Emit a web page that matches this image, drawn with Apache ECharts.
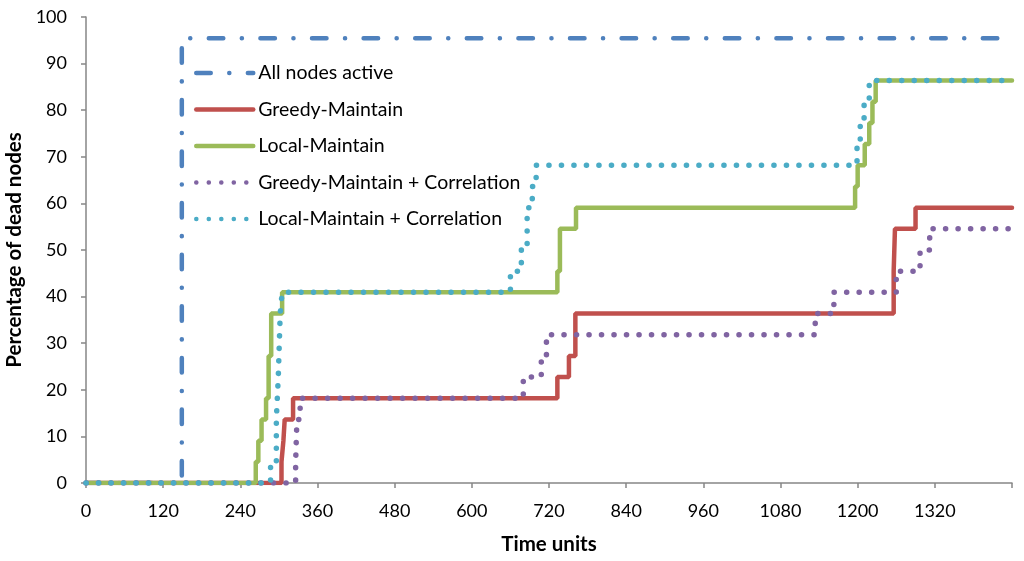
<!DOCTYPE html>
<html>
<head>
<meta charset="utf-8">
<script src="https://cdn.jsdelivr.net/npm/echarts@6/dist/echarts.min.js"></script>
<style>html,body{margin:0;padding:0;background:#fff}#c{width:1024px;height:561px}</style>
</head>
<body>
<div id="c"></div>
<script>
var xTicks = [0, 120, 240, 360, 480, 600, 720, 840, 960, 1080, 1200, 1320, 1440];

var allActiveT = [0, 149, 1440];
var allActiveV = [0, 95.45, 95.45];

var greedyT = [0, 304, 307, 309, 322, 733, 751, 761, 1256, 1258, 1290, 1440];
var greedyV = [0, 4.55, 9.09, 13.64, 18.18, 22.73, 27.27, 36.36, 45.45, 54.55, 59.09, 59.09];

var localT = [0, 264, 268, 273, 280, 284, 288, 305, 733, 737, 762, 1196, 1200, 1211, 1218, 1223, 1228, 1440];
var localV = [0, 4.55, 9.09, 13.64, 18.18, 27.27, 36.36, 40.91, 45.45, 54.55, 59.09, 63.64, 68.18, 72.73, 77.27, 81.82, 86.36, 86.36];

var greedyCorrT = [0, 326, 327, 328, 333, 680, 708, 716, 1134, 1163, 1260, 1297, 1312, 1440];
var greedyCorrV = [0, 4.55, 9.09, 13.64, 18.18, 22.73, 27.27, 31.82, 36.36, 40.91, 45.45, 50, 54.55, 54.55];

var localCorrT = [0, 287, 296, 299, 302, 305, 660, 677, 686, 694, 700, 1199, 1204, 1210, 1218, 1440];
var localCorrV = [0, 4.55, 13.64, 22.73, 36.36, 40.91, 45.45, 50, 59.09, 63.64, 68.18, 72.73, 77.27, 81.82, 86.36, 86.36];

function pairs(t, v) { return t.map(function (x, i) { return [x, v[i]]; }); }

var FONT = 'Lato';
var chart = echarts.init(document.getElementById('c'));

function mk(name, t, v, color, type, width) {
  return {
    name: name, type: 'line', step: 'end', symbol: 'none', showSymbol: false,
    data: pairs(t, v),
    lineStyle: { color: color, width: width, type: type, cap: 'round' },
    itemStyle: { color: color },
    animation: false
  };
}

chart.setOption({
  animation: false,
  grid: { left: 86, right: 12, top: 17, bottom: 78, outerBoundsMode: 'none', containLabel: false },
  legend: {
    orient: 'vertical', left: 189, top: 58,
    itemWidth: 57, itemHeight: 18, itemGap: 16.5,
    itemStyle: { opacity: 0, borderWidth: 0 },
    lineStyle: { width: 4.5, cap: 'round' },
    textStyle: { fontFamily: FONT, fontSize: 19.5, color: '#000' },
    data: ['All nodes active', 'Greedy-Maintain', 'Local-Maintain', 'Greedy-Maintain + Correlation', 'Local-Maintain + Correlation']
  },
  xAxis: {
    type: 'value', min: 0, max: 1440, interval: 120,
    name: 'Time units', nameLocation: 'middle', nameGap: 51,
    nameTextStyle: { fontFamily: FONT, fontSize: 20.5, fontWeight: 'bold', color: '#000' },
    axisLine: { lineStyle: { color: '#868686', width: 1.5 } },
    axisTick: { show: true, inside: false, length: 5, lineStyle: { color: '#868686', width: 1.5 } },
    axisLabel: { fontFamily: FONT, fontSize: 18, color: '#000', margin: 19,
      formatter: function (v) { return (xTicks.indexOf(v) >= 0 && v < 1440) ? String(v) : ''; } },
    splitLine: { show: false }
  },
  yAxis: {
    type: 'value', min: 0, max: 100, interval: 10,
    name: 'Percentage of dead nodes', nameLocation: 'middle', nameGap: 54,
    nameTextStyle: { fontFamily: FONT, fontSize: 20.5, fontWeight: 'bold', color: '#000' },
    axisLine: { show: true, lineStyle: { color: '#868686', width: 1.5 } },
    axisTick: { show: true, inside: false, length: 5, lineStyle: { color: '#868686', width: 1.5 } },
    axisLabel: { fontFamily: FONT, fontSize: 18, color: '#000', margin: 19 },
    splitLine: { show: false }
  },
  series: [
    mk('All nodes active', allActiveT, allActiveV, '#4F81BD', [14.5, 18.5, 0.1, 18.5], 4.5),
    mk('Greedy-Maintain', greedyT, greedyV, '#C0504D', 'solid', 4.5),
    mk('Local-Maintain', localT, localV, '#9BBB59', 'solid', 4.5),
    mk('Greedy-Maintain + Correlation', greedyCorrT, greedyCorrV, '#8064A2', [0.1, 12.4], 5.5),
    mk('Local-Maintain + Correlation', localCorrT, localCorrV, '#4BACC6', [0.1, 12.4], 5.5)
  ]
});
</script>
</body>
</html>
